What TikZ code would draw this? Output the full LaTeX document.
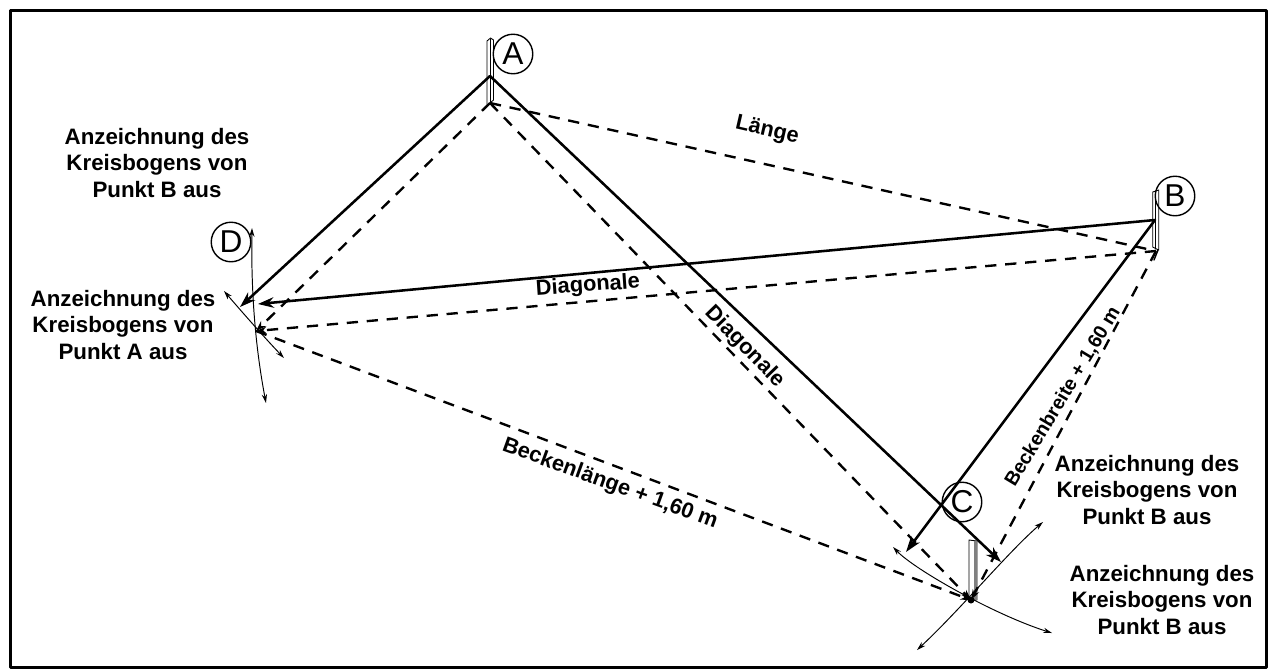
\documentclass[tikz,border=0pt]{standalone}
\usepackage{fontspec}
\setmainfont{Liberation Sans}
\usetikzlibrary{arrows.meta}
\tikzset{
	solidline/.style={line width=1.45pt,-{Stealth[length=9pt,width=6pt]}},
	dashline/.style={line width=1.35pt,line cap=butt,dash pattern=on 6.4pt off 5pt},
	dashtip/.style={dashline,-{Stealth[length=6pt,width=4pt]}},
	arcline/.style={line width=0.55pt,{Stealth[length=5pt,width=3pt]}-{Stealth[length=5pt,width=3pt]}},
	letter/.style={draw,circle,line width=0.8pt,minimum size=22.5pt,inner sep=0pt,font=\fontsize{18}{18}\selectfont},
	note/.style={align=center,inner sep=0pt,font=\fontsize{12.7}{15.2}\selectfont\bfseries},
	linelabel/.style={inner sep=0pt,font=\fontsize{12.4}{14}\selectfont\bfseries},
	post/.style={line width=0.5pt,fill=white}
}
\begin{document}
\begin{tikzpicture}[line cap=round,line join=round,x=0.02cm,y=-0.02cm]
		\useasboundingbox (0,0) rectangle (1271,670);
		\draw [line width=1.7pt] (10.5,10.5) rectangle (1266,667);
		% the points
		\coordinate (topA) at (490,76);
		\coordinate (footA) at (490,103);
		\coordinate (topB) at (1155,220);
		\coordinate (footB) at (1156,251);
		\coordinate (footC) at (971,600);
		\coordinate (markD) at (256,331);
		\coordinate (tipAD) at (240,307);
		\coordinate (tipBD) at (258,304);
		\coordinate (tipAC) at (1001,562);
		\coordinate (tipBC) at (906,552);
		% posts
		\draw [post] (487,41) -- (490.5,38) -- (493.5,40) -- (493.5,100) -- (490,103) -- (487,106) -- cycle;
		\draw [line width=0.5pt] (490.5,39) -- (490.5,103);
		\draw [post] (1152.7,192) -- (1158.7,190) -- (1158.7,250) -- (1152.7,247) -- cycle;
		\draw [line width=0.5pt] (1155.5,191) -- (1155.5,248);
		\draw [line width=0.8pt] (1158,250) -- (1154,260);
		\draw [post] (969,540) -- (977,541) -- (977,600) -- (969,600) -- cycle;
		\fill [gray] (973.5,541) rectangle (977,600);
		\fill (971,600) circle (3.5);
		% dashed lines
		\draw [dashline] (footA) -- (footB);
		\draw [dashtip] (footA) -- (markD);
		\draw [dashtip] (footA) -- (footC);
		\draw [dashtip] (footB) -- (markD);
		\draw [dashtip] (footB) -- (footC);
		\draw [dashtip] (markD) -- (footC);
		% solid lines
		\draw [solidline] (topA) -- (tipAD);
		\draw [solidline] (topA) -- (tipAC);
		\draw [solidline] (topB) -- (tipBD);
		\draw [solidline] (topB) -- (tipBC);
		% arcs
		\coordinate (arcDa) at (252,228);
		\coordinate (arcDb) at (266,403);
		\coordinate (arcDc) at (224,291);
		\coordinate (arcDd) at (284,358);
		\coordinate (arcCa) at (893,547);
		\coordinate (arcCb) at (1052,633);
		\coordinate (arcCc) at (1043,522);
		\coordinate (arcCd) at (917,650);
		\draw [arcline] (arcDa) .. controls (251,290) and (255,345) .. (arcDb);
		\draw [arcline] (arcDc) .. controls (236,305) and (262,335) .. (arcDd);
		\draw [arcline] (arcCa) .. controls (915,570) and (995,615) .. (arcCb);
		\draw [arcline] (arcCc) .. controls (1010,550) and (960,610) .. (arcCd);
		% letters
		\node [letter] (letterA) at (513,54) {A};
		\node [letter] (letterB) at (1175,196) {B};
		\node [letter] (letterC) at (962,502) {C};
		\node [letter] (letterD) at (231,242) {D};
		% labels
		\node [linelabel,rotate=-13] (length) at (767,131) {Länge};
		\node [linelabel,rotate=4] (diagBD) at (588,286) {Diagonale};
		\node [linelabel,rotate=-46] (diagAC) at (745,347) {Diagonale};
		\node [linelabel,rotate=-20] (poolLength) at (610,484) {Beckenlänge + 1,60 m};
		\node [linelabel,rotate=59,font=\fontsize{11.1}{14}\selectfont\bfseries] (poolWidth) at (1063,397) {Beckenbreite + 1,60 m};
		\node [note] (noteOne) at (157,163) {Anzeichnung des\\Kreisbogens von\\Punkt B aus};
		\node [note] (noteTwo) at (123,325) {Anzeichnung des\\Kreisbogens von\\Punkt A aus};
		\node [note] (noteThree) at (1147,490) {Anzeichnung des\\Kreisbogens von\\Punkt B aus};
		\node [note] (noteFour) at (1162,600) {Anzeichnung des\\Kreisbogens von\\Punkt B aus};
\end{tikzpicture}
\end{document}
